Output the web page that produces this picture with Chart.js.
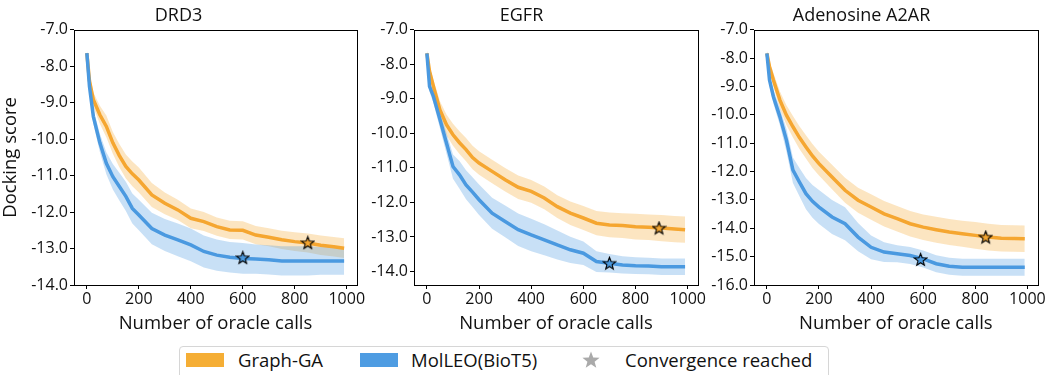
<!DOCTYPE html>
<html>
<head>
<meta charset="utf-8">
<script src="https://cdn.jsdelivr.net/npm/chart.js@4"></script>
<style>
  body { margin: 0; background: #fff; width: 1047px; height: 375px; overflow: hidden; position: relative; font-family: "Open Sans", sans-serif; }
  canvas { position: absolute; top: 0; }
  #legend { position: absolute; left: 179px; top: 346px; width: 650px; height: 40px; border: 1px solid #d6d6d6; border-radius: 4px; box-sizing: border-box; }
  #legend .patch { position: absolute; top: 6px; width: 38px; height: 14px; }
  #legend .label { position: absolute; top: 0px; font-size: 18.5px; color: #111; white-space: nowrap; }
</style>
</head>
<body>
<canvas id="drd3Chart" width="375" height="340" style="left:0px"></canvas>
<canvas id="egfrChart" width="375" height="340" style="left:345px"></canvas>
<canvas id="a2arChart" width="362" height="340" style="left:685px"></canvas>
<div id="legend">
  <div class="patch" style="left:6px;background:#f5ae35"></div>
  <div class="label" style="left:58px">Graph-GA</div>
  <div class="patch" style="left:180px;background:#4e9ce2"></div>
  <div class="label" style="left:231px">MolLEO(BioT5)</div>
  <canvas id="legendStar" width="20" height="20" style="left:401px;top:3px"></canvas>
  <div class="label" style="left:445px">Convergence reached</div>
</div>
<script>
// oracle call counts where values were read
const calls = [0, 10, 25, 50, 75, 100, 125, 150, 175, 200, 250, 300, 350, 400, 450, 500, 550, 600, 650, 700, 750, 800, 850, 900, 950, 990];
const xTicks = [0, 200, 400, 600, 800, 1000];

// DRD3
const drd3Graph = [-7.64, -8.4, -8.92, -9.33, -9.65, -10.1, -10.45, -10.75, -10.95, -11.12, -11.53, -11.76, -11.94, -12.17, -12.26, -12.4, -12.49, -12.5, -12.63, -12.69, -12.76, -12.81, -12.85, -12.91, -12.95, -12.99];
const drd3GraphStd = [0.1, 0.2, 0.2, 0.25, 0.3, 0.3, 0.32, 0.33, 0.34, 0.34, 0.33, 0.3, 0.28, 0.27, 0.26, 0.25, 0.25, 0.25, 0.25, 0.25, 0.25, 0.26, 0.26, 0.27, 0.27, 0.27];
const drd3Mol = [-7.64, -8.55, -9.38, -10.1, -10.66, -11.03, -11.3, -11.57, -11.9, -12.08, -12.45, -12.63, -12.76, -12.9, -13.08, -13.18, -13.24, -13.27, -13.29, -13.31, -13.34, -13.34, -13.34, -13.34, -13.34, -13.34];
const drd3MolStd = [0.1, 0.15, 0.2, 0.25, 0.3, 0.35, 0.38, 0.4, 0.41, 0.42, 0.43, 0.44, 0.45, 0.45, 0.44, 0.43, 0.42, 0.42, 0.4, 0.4, 0.4, 0.4, 0.4, 0.38, 0.38, 0.38];
const drd3StarX = [850, 600];
const drd3StarY = [-12.84, -13.25];
const drd3YTicks = [-7, -8, -9, -10, -11, -12, -13, -14];

// EGFR
const egfrGraph = [-7.68, -8.2, -8.64, -9.32, -9.75, -10.04, -10.27, -10.47, -10.7, -10.86, -11.1, -11.34, -11.56, -11.68, -11.87, -12.12, -12.31, -12.45, -12.6, -12.65, -12.67, -12.7, -12.72, -12.74, -12.77, -12.79];
const egfrGraphStd = [0.1, 0.15, 0.2, 0.25, 0.3, 0.32, 0.33, 0.34, 0.34, 0.34, 0.34, 0.34, 0.34, 0.33, 0.33, 0.33, 0.34, 0.35, 0.35, 0.36, 0.36, 0.37, 0.37, 0.38, 0.38, 0.38];
const egfrMol = [-7.68, -8.64, -8.93, -9.6, -10.28, -10.96, -11.2, -11.49, -11.7, -11.92, -12.31, -12.55, -12.79, -12.94, -13.08, -13.23, -13.37, -13.47, -13.71, -13.76, -13.81, -13.83, -13.84, -13.86, -13.86, -13.86];
const egfrMolStd = [0.1, 0.15, 0.2, 0.25, 0.3, 0.35, 0.4, 0.42, 0.43, 0.44, 0.45, 0.46, 0.47, 0.47, 0.45, 0.42, 0.38, 0.34, 0.3, 0.27, 0.25, 0.24, 0.24, 0.24, 0.24, 0.24];
const egfrStarX = [890, 700];
const egfrStarY = [-12.74, -13.76];
const egfrYTicks = [-7, -8, -9, -10, -11, -12, -13, -14];

// Adenosine A2AR
const a2arGraph = [-7.83, -8.3, -8.77, -9.48, -10.01, -10.42, -10.8, -11.13, -11.45, -11.72, -12.19, -12.66, -13.01, -13.25, -13.49, -13.66, -13.84, -13.96, -14.05, -14.13, -14.19, -14.25, -14.31, -14.35, -14.36, -14.37];
const a2arGraphStd = [0.1, 0.2, 0.25, 0.3, 0.35, 0.38, 0.4, 0.41, 0.42, 0.42, 0.43, 0.44, 0.44, 0.45, 0.45, 0.45, 0.45, 0.45, 0.46, 0.46, 0.46, 0.47, 0.47, 0.47, 0.47, 0.47];
const a2arMol = [-7.83, -8.77, -9.36, -10.07, -10.89, -11.95, -12.37, -12.78, -13.05, -13.25, -13.6, -13.84, -14.31, -14.67, -14.84, -14.9, -14.96, -15.08, -15.25, -15.34, -15.37, -15.37, -15.37, -15.37, -15.37, -15.37];
const a2arMolStd = [0.1, 0.2, 0.25, 0.3, 0.4, 0.45, 0.5, 0.55, 0.58, 0.6, 0.6, 0.58, 0.5, 0.42, 0.35, 0.3, 0.3, 0.3, 0.3, 0.3, 0.3, 0.3, 0.3, 0.3, 0.3, 0.3];
const a2arStarX = [840, 590];
const a2arStarY = [-14.31, -15.1];
const a2arYTicks = [-7, -8, -9, -10, -11, -12, -13, -14, -15, -16];

const orange = '#f5a630';
const blue = '#4a99e0';
const orangeBand = 'rgba(245, 170, 50, 0.3)';
const blueBand = 'rgba(74, 153, 224, 0.3)';

// five point star drawn into a small canvas, used as point style
function starImage(fill, edge, size) {
   var c = document.createElement('canvas');
   c.width = size; c.height = size;
   var g = c.getContext('2d');
   var r = size / 2 - 1, cx = size / 2, cy = size / 2 + 0.5;
   g.beginPath();
   for (var i = 0; i < 10; i++) {
       var rad = i % 2 === 0 ? r : r * 0.42;
       var a = -Math.PI / 2 + i * Math.PI / 5;
       g.lineTo(cx + rad * Math.cos(a), cy + rad * Math.sin(a));
   }
   g.closePath();
   g.fillStyle = fill;
   g.fill();
   if (edge) {
       g.lineWidth = 1.1;
       g.strokeStyle = edge;
       g.stroke();
   }
   return c;
}

// full box around the plot area, like matplotlib
const frameBox = {
   id: 'frameBox',
   afterDraw(chart) {
       var a = chart.chartArea, ctx = chart.ctx;
       ctx.save();
       ctx.strokeStyle = '#000';
       ctx.lineWidth = 1;
       ctx.strokeRect(Math.round(a.left) + 0.5, Math.round(a.top) + 0.5, Math.round(a.right - a.left), Math.round(a.bottom - a.top));
       ctx.restore();
   }
};

function pts(ys, off, sign) {
   return calls.map((c, i) => ({ x: c, y: ys[i] + (off ? sign * off[i] : 0) }));
}

function renderPanel(id, title, yTicks, yMin, yMax, graph, graphStd, mol, molStd, starX, starY, box) {
   var ctx = document.getElementById(id).getContext('2d');
   new Chart(ctx, {
       type: 'line',
       data: {
           datasets: [
               { data: pts(graph, graphStd, 1), fill: '+1', backgroundColor: orangeBand, borderWidth: 0, pointRadius: 0, order: 6 },
               { data: pts(graph, graphStd, -1), fill: false, borderWidth: 0, pointRadius: 0, order: 6 },
               { data: pts(mol, molStd, 1), fill: '+1', backgroundColor: blueBand, borderWidth: 0, pointRadius: 0, order: 5 },
               { data: pts(mol, molStd, -1), fill: false, borderWidth: 0, pointRadius: 0, order: 5 },
               { label: 'Graph-GA', data: pts(graph), borderColor: orange, borderWidth: 3.5, pointRadius: 0, fill: false, order: 3 },
               { label: 'MolLEO(BioT5)', data: pts(mol), borderColor: blue, borderWidth: 3.5, pointRadius: 0, fill: false, order: 2 },
               {
                   data: starX.map((x, i) => ({ x: x, y: starY[i] })),
                   showLine: false,
                   pointStyle: [starImage(orange, '#000', 15), starImage(blue, '#000', 15)],
                   pointRadius: 7,
                   order: 1
               }
           ]
       },
       options: {
           responsive: false,
           animation: false,
           layout: { padding: { left: 0, right: box.right, top: 0, bottom: 0 } },
           plugins: {
               legend: { display: false },
               tooltip: { enabled: false },
               title: {
                   display: true,
                   text: title,
                   color: '#111',
                   font: { family: 'Open Sans', size: 18, weight: 'normal', lineHeight: 1.1 },
                   padding: { top: 6, bottom: 4 }
               }
           },
           scales: {
               x: {
                   type: 'linear',
                   min: -49.5,
                   max: 1039.5,
                   afterBuildTicks: s => { s.ticks = xTicks.map(v => ({ value: v })); },
                   afterFit: s => { s.height = 55; },
                   grid: { drawOnChartArea: false, drawTicks: true, tickLength: 4, tickColor: '#000' },
                   border: { display: false },
                   ticks: { color: '#111', font: { family: 'Open Sans', size: 16 }, padding: 1, maxRotation: 0, callback: v => String(v) },
                   title: { display: true, text: 'Number of oracle calls', color: '#111', font: { family: 'Open Sans', size: 18.5 }, padding: { top: 0, bottom: 5 } }
               },
               y: {
                   min: yMin,
                   max: yMax,
                   afterBuildTicks: s => { s.ticks = yTicks.map(v => ({ value: v })); },
                   afterFit: s => { s.width = box.yWidth; },
                   grid: { drawOnChartArea: false, drawTicks: true, tickLength: 4, tickColor: '#000' },
                   border: { display: false },
                   ticks: { color: '#111', font: { family: 'Open Sans', size: 16 }, padding: 2, callback: v => v.toFixed(1) },
                   title: { display: box.yTitle, text: 'Docking score', color: '#111', font: { family: 'Open Sans', size: 18.5 }, padding: { top: 0, bottom: 3 } }
               }
           }
       },
       plugins: [frameBox]
   });
}

window.onload = () => {
   renderPanel('drd3Chart', 'DRD3', drd3YTicks, -14, -7, drd3Graph, drd3GraphStd, drd3Mol, drd3MolStd, drd3StarX, drd3StarY, { yWidth: 74, right: 18, yTitle: true });
   renderPanel('egfrChart', 'EGFR', egfrYTicks, -14.39, -7, egfrGraph, egfrGraphStd, egfrMol, egfrMolStd, egfrStarX, egfrStarY, { yWidth: 69, right: 22, yTitle: false });
   renderPanel('a2arChart', 'Adenosine A2AR', a2arYTicks, -16, -7, a2arGraph, a2arGraphStd, a2arMol, a2arMolStd, a2arStarX, a2arStarY, { yWidth: 69, right: 9, yTitle: false });

   var s = document.getElementById('legendStar').getContext('2d');
   s.drawImage(starImage('#aaaaaa', null, 20), 0, 0);
};
</script>
</body>
</html>
